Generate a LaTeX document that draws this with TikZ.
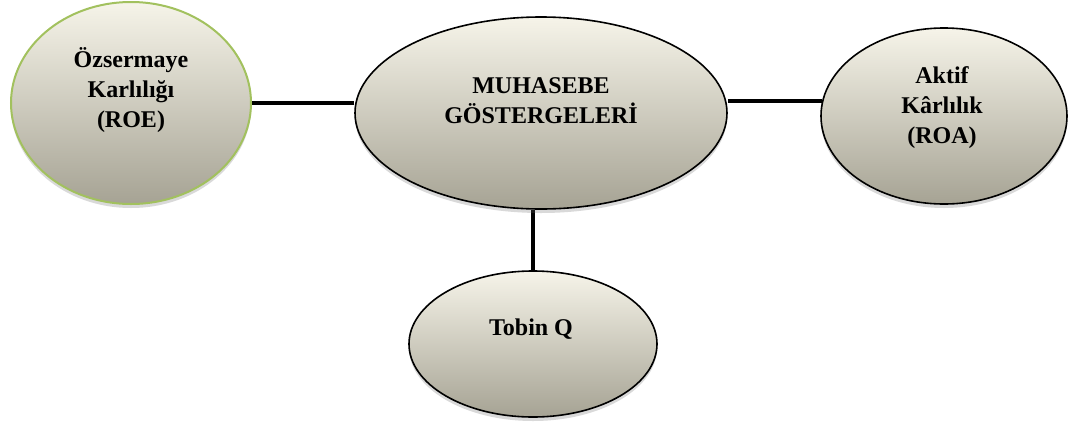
\documentclass[tikz,border=0pt]{standalone}
\usepackage{fontspec}
\setmainfont{Liberation Serif}
\usetikzlibrary{shapes.geometric,shadows,backgrounds}
\definecolor{topc}{HTML}{F6F4E9}
\definecolor{botc}{HTML}{A6A394}
\definecolor{greenb}{HTML}{A2C15E}
\tikzset{
  oval/.style={ellipse, draw=black, line width=1.6pt, inner sep=0pt,
    top color=topc, bottom color=botc,
    drop shadow={shadow xshift=0pt, shadow yshift=-4pt, opacity=0.25, fill=black!60}},
  lbl/.style={font=\fontsize{24}{30}\selectfont\bfseries, align=center, inner sep=0pt},
  conn/.style={line width=4.5pt, black}
}
\begin{document}
\begin{tikzpicture}[x=1pt,y=-1pt]
\useasboundingbox (0,0) rectangle (1069,421);
\node[oval, draw=greenb, line width=2pt, minimum width=240pt, minimum height=202pt] (roe) at (131,103) {};
\node[oval, minimum width=372pt, minimum height=192pt] (muh) at (541,113) {};
\node[oval, minimum width=246pt, minimum height=176pt] (roa) at (944,116) {};
\node[oval, minimum width=248pt, minimum height=146pt] (tob) at (533,344) {};
\node[lbl] (troe) at (131,90) {Özsermaye\\Karlılığı\\(ROE)};
\node[lbl] (tmuh) at (541,100.5) {MUHASEBE\\GÖSTERGELERİ};
\node[lbl] (troa) at (942,108) {Aktif\\Kârlılık\\(ROA)};
\node[lbl] (ttob) at (531,329) {Tobin Q};
\begin{pgfonlayer}{background}
\draw[conn] (roe.east) -- (muh.west |- roe.east);
\draw[conn] (roa.173) -- (muh.east |- roa.173);
\draw[conn] (tob.north) -- (tob.north |- muh.south);
\end{pgfonlayer}
\end{tikzpicture}
\end{document}
